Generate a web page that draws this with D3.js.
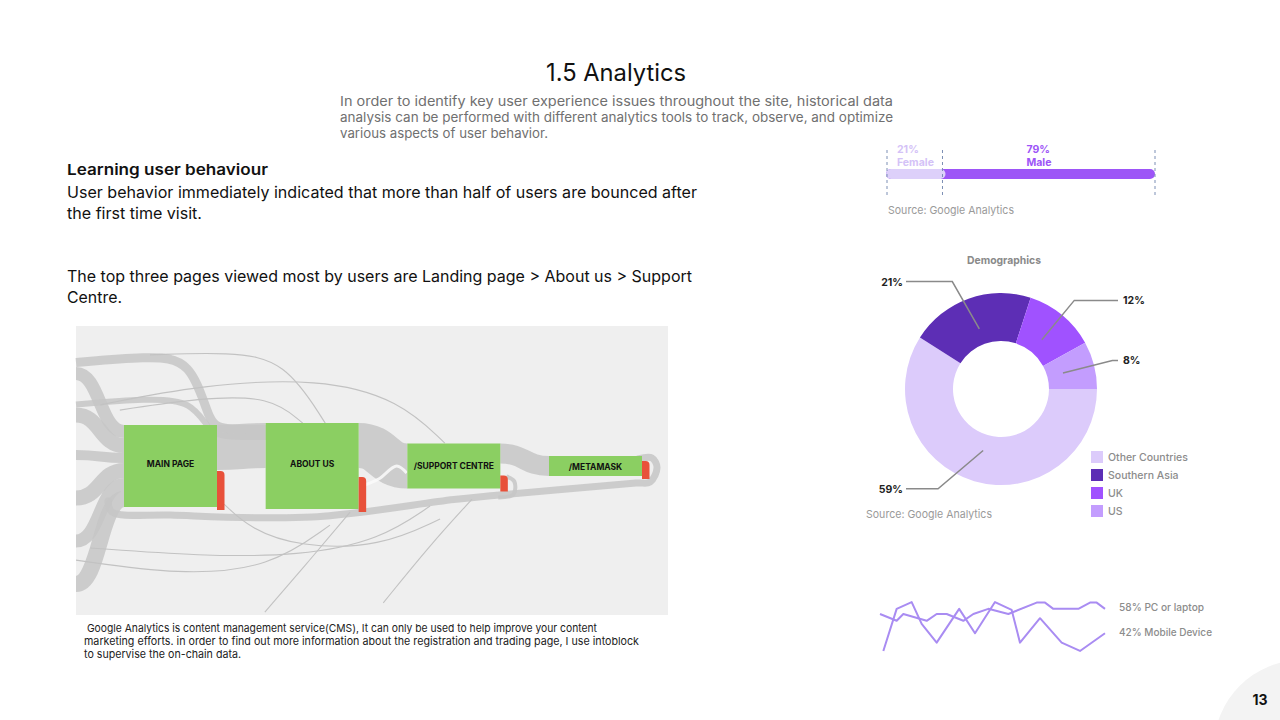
<!DOCTYPE html>
<html><head><meta charset="utf-8">
<script src="https://cdn.jsdelivr.net/npm/d3@7"></script>
<style>
body{margin:0;background:#fff;}
svg{display:block;}
text{font-family:Inter,"Noto Sans",sans-serif;}
</style></head>
<body><svg id="c" width="1280" height="720"></svg>
<script>
// ---------------- DATA ----------------
const titleText = "1.5 Analytics";
const introLines = [
 "In order to identify key user experience issues throughout the site, historical data",
 "analysis can be performed with different analytics tools to track, observe, and optimize",
 "various aspects of user behavior."];
const headingText = "Learning user behaviour";
const bodyLinesA = ["User behavior immediately indicated that more than half of users are bounced after","the first time visit."];
const bodyLinesB = ["The top three pages viewed most by users are Landing page > About us > Support","Centre."];
const captionLines = [
 " Google Analytics is content management service(CMS), It can only be used to help improve your content",
 "marketing efforts. in order to find out more information about the registration and trading page, I use intoblock",
 "to supervise the on-chain data."];

// gender split
const genderLabels = ["Female","Male"];
const genderShare = [21,79];

// demographics donut
const regions = ["Other Countries","Southern Asia","UK","US"];
const regionShare = [59,21,12,8];

// device lines
const deviceLabels = ["PC or laptop","Mobile Device"];
const deviceShare = [58,42];
const pcX = [0,2,2.8,5.6,6.8,8,10,11.2,13,15.4,18.8,19.8,20.8,23.8,25.2,26,27];
const pcY = [73,60,73,60,73,73,60,73,83,73,95,95,83,83,95,95,83];
const mobileX = [0.4,2,3.8,5,6.8,9.5,11.4,13.8,15.8,16.8,19.2,21.8,24,27];
const mobileY = [2,83,96,54,18,83,36,96,81,18,65,18,2,36];

// behaviour flow
const steps = ["MAIN PAGE","ABOUT US","/SUPPORT CENTRE","/METAMASK"];
const stepSessions = [4100,4300,2250,1000];
const stepDropoffs = [1950,1750,800,900];
const stepThrough = [2250,2250,1000];
const entranceToMain = [650,750,500,750,650,800];
const entranceToAbout = [450,300,0,0,0,0];
const returnSessions = 350;
// faint individual session paths, in % of the flow panel
const faintPaths = [
 [[12.5,10.0],[26.0,9.0],[35.3,11.8],[42.1,33.6]],
 [[4.1,27.3],[20.9,20.4],[41.2,18.0],[54.7,25.6],[62.3,40.5]],
 [[7.4,29.1],[20.9,24.9],[32.8,24.2],[38.3,33.6]],
 [[2.4,76.8],[20.9,79.6],[37.8,79.6],[51.4,74.0],[59.8,62.3]],
 [[31.9,99.0],[39.5,81.0],[46.3,64.4]],
 [[51.9,95.8],[59.8,75.8],[66.9,59.9]],
 [[0,81.0],[17.6,86.2],[32.8,83.7],[42.9,68.9]],
 [[25.0,61.6],[29.4,70.2],[37.8,76.5],[51.4,76.5],[61.5,66.8]]
];

// ---------------- STYLE ----------------
const regionColors = ["#dccbfb","#5d2eb5","#a052ff","#c39dfe"];
const genderColors = ["#ddd0fa","#9d55f7"];
const genderLabelColors = ["#d4c2f7","#9d55f7"];
const lineColor = "#a98cf2";

const svg = d3.select("#c");

function tl(g,x,y,s,size,weight,fill,len,anchor){
  const t = g.append("text").attr("x",x).attr("y",y).text(s)
    .attr("font-size",size).attr("font-weight",weight).attr("fill",fill)
    .attr("text-anchor",anchor||"start").style("white-space","pre");
  if(len) t.attr("textLength",len).attr("lengthAdjust","spacingAndGlyphs");
  return t;
}

// page corner
svg.append("circle").attr("cx",1302).attr("cy",748).attr("r",88).attr("fill","#f3f3f3");
tl(svg,1260,705,"13",14,700,"#111",null,"middle");

// ---------------- TEXT ----------------
tl(svg,616,81,titleText,24,400,"#111",140,"middle");
const introLen=[553,553,208];
introLines.forEach((s,i)=>tl(svg,340,106+i*16,s,13,400,"#707070",introLen[i]));
tl(svg,67,175,headingText,15,600,"#111",201);
const bodyALen=[630,135], bodyBLen=[625,55];
bodyLinesA.forEach((s,i)=>tl(svg,67,198+i*21,s,16,400,"#111",bodyALen[i]));
bodyLinesB.forEach((s,i)=>tl(svg,67,282+i*21,s,16,400,"#111",bodyBLen[i]));
const capX=[84,84,84], capLen=[513,555,157];
captionLines.forEach((s,i)=>tl(svg,capX[i],632+i*13,s,11,400,"#222",capLen[i]));

// ---------------- BEHAVIOUR FLOW ----------------
const panel = {x0:76,x1:668,y0:326,y1:615};
svg.append("rect").attr("x",panel.x0).attr("y",panel.y0).attr("width",panel.x1-panel.x0)
  .attr("height",panel.y1-panel.y0).attr("fill","#efefef");
const px = d3.scaleLinear().domain([0,100]).range([panel.x0,panel.x1]);
const py = d3.scaleLinear().domain([0,100]).range([panel.y0,panel.y1]);
const sx = d3.scaleLinear().domain([0,3]).range([124,549]);
const sy = d3.scaleLinear().domain([-7000,7450]).range([panel.y0,panel.y1]);
const k = sy(1)-sy(0);
const NW = 93;
const nodes = steps.map((name,i)=>({name,i,x0:sx(i),x1:sx(i)+NW,
   y0:sy(-stepSessions[i]/2),y1:sy(stepSessions[i]/2)}));
nodes.forEach((n,i)=>{n.rb = n.y1+3; n.rt = n.rb - stepDropoffs[i]*k;});

const flowG = svg.append("g").attr("fill","none").attr("stroke","#c6c6c6").attr("stroke-opacity",0.85);
const link = d3.linkHorizontal();
const basis = d3.line().curve(d3.curveBasis);
const er = d3.scalePoint().domain(d3.range(entranceToMain.length)).range([369,584]);

// entrances -> main page / about us
let offMain = nodes[0].y0, offAbout = nodes[1].y0 + 2;
entranceToMain.forEach((v,i)=>{
  const tot = (v+entranceToAbout[i])*k;
  const wM = v*k, wA = entranceToAbout[i]*k;
  const sTop = er(i)-tot/2;
  if(wA>0){
    const s = sTop+wA/2, t = offAbout+wA/2, gap = nodes[0].x1;
    flowG.append("path").attr("d",basis([[panel.x0,s],[gap-70,s-6],[gap-25,s-4],[gap-8,t-6],[gap+5,t],[nodes[1].x0,t]]))
      .attr("stroke-width",wA);
    offAbout += wA;
  }
  flowG.append("path").attr("d",link({source:[panel.x0,sTop+wA+wM/2],target:[nodes[0].x0,offMain+wM/2]}))
    .attr("stroke-width",wM);
  offMain += wM;
});

// step -> step
stepThrough.forEach((v,i)=>{
  const w=v*k, a=nodes[i], b=nodes[i+1];
  flowG.append("path").attr("d",link({source:[a.x1,a.y0+w/2],target:[b.x0,b.y0+w/2]}))
    .attr("stroke-width",w);
});

// return loop from the last page back to the first
const rw = returnSessions*k;
const n3 = nodes[3];
const loopPts = [
  [n3.x1-4,n3.y0+3],[n3.x1+10,n3.y0+2],[n3.x1+15,(n3.y0+n3.rb)/2],[n3.x1+8,n3.rb+3],[n3.x1-6,n3.rb+4],
  [nodes[2].x0+NW/2+40,nodes[2].rb+4],
  [nodes[2].x0+NW/2,nodes[2].rb+8],
  [nodes[1].x0+NW/2,nodes[1].rb+5],
  [nodes[0].x0+NW/2,nodes[0].rb+5],
  [nodes[0].x0-12,nodes[0].rb+2],[nodes[0].x0-16,nodes[0].y1-6]
];
flowG.append("path").attr("d",d3.line().curve(d3.curveCatmullRom.alpha(0.5))(loopPts))
  .attr("stroke-width",rw).attr("stroke-linecap","round");
const n2 = nodes[2];
flowG.append("path").attr("d",d3.line().curve(d3.curveCatmullRom.alpha(0.5))([
  [n2.x1+6,n2.rt+1],[n2.x1+14,n2.rt+6],[n2.x1+13,n2.rb+3],[n2.x1-2,n2.rb+6]]))
  .attr("stroke-width",4);
const n1 = nodes[1];
flowG.append("path").attr("d",d3.line().curve(d3.curveCatmullRom.alpha(0.5))([
  [n1.x1+6,n1.rt+8],[n1.x1+20,n1.rt+2],[n1.x1+38,(n1.y0+n1.y1)/2],[n1.x1+48,n1.rt-4]]))
  .attr("stroke-width",3).attr("stroke","#fafafa");

// faint paths
const fl = d3.line().curve(d3.curveBasis).x(d=>px(d[0])).y(d=>py(d[1]));
svg.append("g").selectAll("path").data(faintPaths).join("path")
  .attr("d",fl).attr("fill","none").attr("stroke","#c2c2c2").attr("stroke-width",1.1);

// nodes
const nodeG = svg.append("g");
nodeG.selectAll("rect.node").data(nodes).join("rect").attr("class","node")
  .attr("x",d=>d.x0).attr("y",d=>d.y0).attr("width",NW).attr("height",d=>d.y1-d.y0)
  .attr("fill","#8bcf62");
nodeG.selectAll("path.drop").data(nodes).join("path").attr("class","drop")
  .attr("d",d=>{const x=d.x1,w=7.5,t=d.rt,b=d.rb,r=4;
     return `M${x},${t}H${x+w-r}Q${x+w},${t} ${x+w},${t+r}V${b}H${x}Z`;})
  .attr("fill","#e8513a");
nodeG.selectAll("text").data(nodes).join("text")
  .attr("x",d=>d.x0+NW/2).attr("y",d=>(d.y0+d.y1)/2 + (d.i===2?3:(d.i===3?4:1)))
  .attr("text-anchor","middle").attr("font-size",8.5).attr("font-weight",700).attr("fill","#111")
  .text(d=>d.name);

// ---------------- GENDER BAR ----------------
const gx = d3.scaleLinear().domain([0,100]).range([886,1155]);
const gStart = [0,genderShare[0]];
svg.append("rect").attr("x",gx(0)).attr("y",169).attr("width",gx(100)-gx(0)).attr("height",10)
  .attr("rx",5).attr("fill",genderColors[1]);
svg.append("rect").attr("x",gx(0)).attr("y",169).attr("width",gx(genderShare[0])-gx(0)+3).attr("height",10)
  .attr("rx",5).attr("fill",genderColors[0]);
[0,genderShare[0],100].forEach(v=>{
  svg.append("line").attr("x1",gx(v)+(v===0?1:0)).attr("x2",gx(v)+(v===0?1:0)).attr("y1",150).attr("y2",197)
   .attr("stroke","#7d8fb5").attr("stroke-width",1).attr("stroke-dasharray","3,3");
});
const gInset=[11,84];
genderLabels.forEach((lab,i)=>{
  const x = gx(gStart[i])+gInset[i];
  tl(svg,x,153,genderShare[i]+"%",10.5,700,genderLabelColors[i]);
  tl(svg,x,166,lab,10.5,700,genderLabelColors[i]);
});
tl(svg,888,214,"Source: Google Analytics",11,400,"#9a9a9a",126);

// ---------------- DONUT ----------------
tl(svg,1004,264,"Demographics",11,700,"#8a8a8a",74,"middle");
const pie = d3.pie().sort(null).startAngle(Math.PI/2).endAngle(Math.PI/2+2*Math.PI);
const arcs = pie(regionShare);
const dg = svg.append("g").attr("transform","translate(1001,389)");
dg.selectAll("path").data(arcs).join("path")
  .attr("d",d3.arc().innerRadius(48).outerRadius(96)).attr("fill",(d,i)=>regionColors[i]);
const aIn = d3.arc().innerRadius(64).outerRadius(64);
arcs.forEach(d=>{
  const p0=aIn.centroid(d);
  const mid=(d.startAngle+d.endAngle)/2;
  const right=Math.sin(mid)>0;
  // elbow: leaders lean outward toward the label column
  const elbowR = right?115:118, elbowA = mid + (right?0:(Math.cos(mid)<0?0.28:-0.08));
  const p1=[Math.sin(elbowA)*elbowR, -Math.cos(elbowA)*elbowR];
  const xEnd = right?117:-95;
  dg.append("polyline").attr("points",[p0,p1,[xEnd,p1[1]]].map(p=>p.join(",")).join(" "))
    .attr("fill","none").attr("stroke","#8a8a8a").attr("stroke-width",1.5);
  tl(dg,right?xEnd+5:xEnd-3,p1[1]+4,d.data+"%",10.5,700,"#222",null,right?"start":"end");
});
const lg = svg.append("g");
regions.forEach((r,i)=>{
  lg.append("rect").attr("x",1091).attr("y",451+i*18).attr("width",12).attr("height",12).attr("fill",regionColors[i]);
  tl(lg,1108,461+i*18,r,10.5,500,"#8c8c8c");
});
tl(svg,866,518,"Source: Google Analytics",11,400,"#9a9a9a",126);

// ---------------- DEVICE LINES ----------------
const lx = d3.scaleLinear().domain([0,27]).range([880,1105]);
const ly = d3.scaleLinear().domain([0,100]).range([652,600]);
const ln = d3.line().x(d=>lx(d[0])).y(d=>ly(d[1]));
[[pcX,pcY],[mobileX,mobileY]].forEach(([xs,ys])=>{
  svg.append("path").attr("d",ln(xs.map((x,i)=>[x,ys[i]])))
    .attr("fill","none").attr("stroke",lineColor).attr("stroke-width",2).attr("stroke-linejoin","round");
});
deviceLabels.forEach((lab,i)=>tl(svg,1119,611+i*25,deviceShare[i]+"% "+lab,10.5,500,"#8c8c8c",i?93:85));
</script></body></html>
